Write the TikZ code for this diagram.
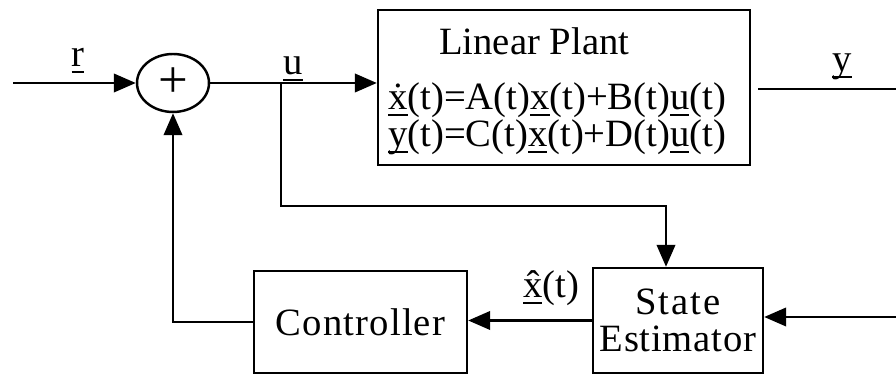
\documentclass[tikz,border=0pt]{standalone}
\usepackage{fontspec}
\setmainfont{Liberation Serif}
\usepackage{tikz}
\usetikzlibrary{shapes.geometric,arrows.meta,calc}
% underlined signal name, line at a fixed depth
\newcommand{\vsig}[1]{\setbox0=\hbox{#1}\rlap{\rule[-3.5pt]{\wd0}{1.3pt}}\box0}

\begin{document}
\begin{tikzpicture}[x=0.02cm, y=-0.02cm, line width=1.4pt,
    font=\fontsize{22}{21}\selectfont,
    blk/.style={draw, rectangle, inner sep=0pt},
    sumj/.style={draw, ellipse, minimum width=1.44cm, minimum height=1.16cm, inner sep=0pt,
        font=\fontsize{30}{30}\selectfont},
    sig/.style={-{Triangle[length=12.5pt,width=10.5pt]}},
    txt/.style={anchor=base west, inner sep=0pt}]
    \useasboundingbox (0,0) rectangle (896,377);

    % summing junction
    \node[sumj] (sum) at (173,83) {+};

    % plant
    \node[blk, minimum width=7.44cm, minimum height=3.1cm] (plant) at (564,87.5) {};
    \node[txt] (pname) at (438,55) {Linear Plant};
    \node[txt] (peqa) at (387,110) {\vsig{\.{x}}(t)=A(t)\vsig{x}(t)+B(t)\vsig{u}(t)};
    \node[txt] (peqb) at (387,147) {\vsig{y}(t)=C(t)\vsig{x}(t)+D(t)\vsig{u}(t)};

    % feedback blocks
    \node[blk, minimum width=4.26cm, minimum height=2.04cm] (ctrl) at (360.5,322) {\addfontfeature{LetterSpace=3}Controller};
    \node[blk, align=center, minimum width=3.4cm, minimum height=2.1cm] (est) at (678,320.5)
        {\addfontfeature{LetterSpace=5}State\\\addfontfeature{LetterSpace=2}Estimator};

    % free ends and bends
    \coordinate (rin) at (13,83);
    \coordinate (ubr) at (281,83);
    \coordinate (ubend) at (666,206);
    \coordinate (yout) at (896,89);
    \coordinate (yin) at (896,317);

    % connectors
    \draw[sig] (rin) -- (sum.west);
    \draw[sig] (sum.east) -- (sum.east -| plant.west);
    \draw[sig] (ubr) |- (ubend) -- (ubend |- est.north);
    \draw[shorten <=0.14cm] (plant.east |- yout) -- (yout);
    \draw[sig] (yin) -- (yin -| est.east);
    \draw[sig] (est.west) -- (est.west -| ctrl.east);
    \draw[sig] (ctrl.west) -| (sum.south);

    % signal labels
    \node[anchor=base] (rlab) at (78,67) {\vsig{r}};
    \node[anchor=base] (ulab) at (293,75) {\vsig{u}};
    \node[anchor=base] (ylab) at (842,72) {\vsig{y}};
    \node[anchor=base] (xhlab) at (551,298) {\vsig{\^{x}}(t)};
\end{tikzpicture}
\end{document}
